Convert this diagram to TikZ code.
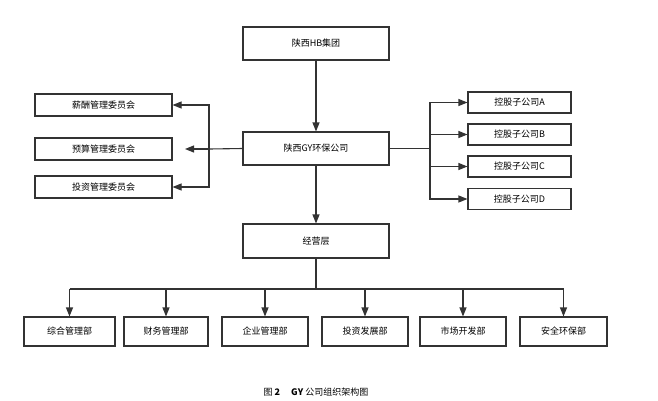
\documentclass[tikz,border=0pt]{standalone}
\usepackage{fontspec}
\setmainfont{Noto Sans CJK SC}
\newfontfamily\capfont{Noto Sans CJK SC}
\usetikzlibrary{arrows.meta}
\tikzset{
  box/.style={draw=black!80, line width=1.1pt, inner sep=0pt, font=\fontsize{9}{10}\selectfont},
  link/.style={draw=black!80, line width=1.1pt, -{Triangle[width=7pt,length=9pt]}},
  line/.style={draw=black!80, line width=1.1pt}
}
\begin{document}
\begin{tikzpicture}[x=1pt,y=-1pt]
    \useasboundingbox (0,0) rectangle (658,400);

    % top levels
    \node[box, minimum width=146pt, minimum height=33pt] (hb) at (316,43.5) {陕西HB集团};
    \node[box, minimum width=146pt, minimum height=33pt] (gy) at (316,148.5) {陕西GY环保公司};
    \node[box, minimum width=146pt, minimum height=34pt] (jy) at (316,241) {经营层};
    \draw[link] (hb) -- (gy);
    \draw[link] (gy) -- (jy);

    % committees
    \node[box, minimum width=137pt, minimum height=22pt] (xc) at (103.5,105) {薪酬管理委员会};
    \node[box, minimum width=137pt, minimum height=22pt] (ys) at (103.5,149) {预算管理委员会};
    \node[box, minimum width=137pt, minimum height=22pt] (tz) at (103.5,187) {投资管理委员会};
    \coordinate (lj) at (209,149);
    \coordinate (ye) at (185,149);
    \draw[line] (gy.west) -- (lj);
    \draw[link] (lj) -- (ye);
    \draw[link] (lj) |- (xc.east);
    \draw[link] (lj) |- (tz.east);

    % subsidiaries
    \coordinate (rj) at (430,148.5);
    \draw[line] (gy.east) -- (rj);
    \foreach \n/\y in {A/102.5, B/134.5, C/166.5, D/199} {
        \node[box, minimum width=103pt, minimum height=21pt] (sub\n) at (519.5,\y) {控股子公司\n};
        \draw[link] (rj) |- (sub\n.west);
    }

    % departments
    \coordinate (bus) at (316,289);
    \draw[line] (jy.south) -- (bus);
    \foreach \i/\x/\w/\t in {1/69.5/91/综合管理部, 2/166/84/财务管理部, 3/265/86/企业管理部,
                             4/365/86/投资发展部, 5/463/86/市场开发部, 6/563.5/87/安全环保部} {
        \node[box, minimum width=\w pt, minimum height=29pt] (d\i) at (\x,331.5) {\t};
        \draw[link] (bus -| d\i) -- (d\i.north);
    }
    \draw[line] (bus -| d1) -- (bus -| d6);

    % caption
    \node[font=\fontsize{9}{10}\selectfont] (cap) at (316,392) {图 \textbf{2}\quad\ \textbf{GY} 公司组织架构图};
\end{tikzpicture}
\end{document}
